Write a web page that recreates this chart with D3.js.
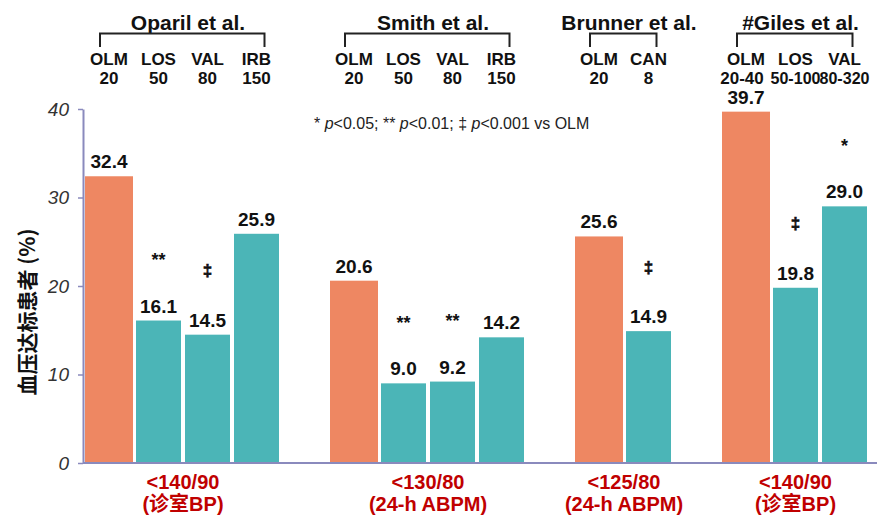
<!DOCTYPE html>
<html>
<head>
<meta charset="utf-8">
<script src="https://cdn.jsdelivr.net/npm/d3@7/dist/d3.min.js"></script>
<style>
  html, body { margin: 0; padding: 0; background: #fff; }
  svg { display: block; font-family: Arial, "Liberation Sans", sans-serif; }
</style>
</head>
<body>
<svg id="chart" width="882" height="520"></svg>
<script>
// ---------------- data ----------------
const studies = ["Oparil et al.", "Smith et al.", "Brunner et al.", "#Giles et al."];
const drugs = [["OLM", "LOS", "VAL", "IRB"], ["OLM", "LOS", "VAL", "IRB"], ["OLM", "CAN"], ["OLM", "LOS", "VAL"]];
const doses = [["20", "50", "80", "150"], ["20", "50", "80", "150"], ["20", "8"], ["20-40", "50-100", "80-320"]];
const values = [[32.4, 16.1, 14.5, 25.9], [20.6, 9.0, 9.2, 14.2], [25.6, 14.9], [39.7, 19.8, 29.0]];
const significance = [["", "**", "‡", ""], ["", "**", "**", ""], ["", "‡"], ["", "‡", "*"]];
const targets = [["<140/90", "(诊室BP)"], ["<130/80", "(24-h ABPM)"], ["<125/80", "(24-h ABPM)"], ["<140/90", "(诊室BP)"]];
const yTicks = [0, 10, 20, 30, 40];
const yLabel = "血压达标患者 (%)";
const note = [["* ", false], ["p", true], ["<0.05; ** ", false], ["p", true], ["<0.01; ‡ ", false], ["p", true], ["<0.001 vs OLM", false]];

// ---------------- layout ----------------
const svg = d3.select("#chart");
const ORANGE = "#EE8762", TEAL = "#4BB5B7", AXIS = "#8A8ABD", RED = "#C00000";

// flatten into slots, with one empty slot between studies
const bars = [];
let slot = 0;
studies.forEach((s, g) => {
  values[g].forEach((v, i) => {
    bars.push({ g, i, slot, value: v, drug: drugs[g][i], dose: doses[g][i], sig: significance[g][i] });
    slot++;
  });
  slot++;
});
const nSlots = slot - 1;

const x = d3.scaleBand().domain(d3.range(nSlots)).range([85, 869]).paddingInner(0).paddingOuter(0);
const step = x.step();
const y = d3.scaleLinear().domain([0, 40]).range([463, 109]);

function barX(d) { return d.i === 0 ? x(d.slot) : x(d.slot) + 2; }
function barW(d) { return d.i === 0 ? step - 1 : step - 4; }
function barC(d) { return barX(d) + barW(d) / 2; }

// ---------------- bars ----------------
svg.append("g").selectAll("rect").data(bars).join("rect")
  .attr("x", barX)
  .attr("width", barW)
  .attr("y", d => y(d.value))
  .attr("height", d => y(0) - y(d.value))
  .attr("fill", d => d.i === 0 ? ORANGE : TEAL);

// ---------------- axes ----------------
const yAxis = d3.axisLeft(y).tickValues(yTicks).tickSize(5).tickSizeOuter(0).tickPadding(9);
const yg = svg.append("g").attr("transform", "translate(83,0)").call(yAxis);
yg.select(".domain").attr("stroke", AXIS).attr("stroke-width", 2);
yg.selectAll(".tick line").attr("stroke", AXIS).attr("stroke-width", 1.5);
yg.selectAll(".tick text")
  .attr("font-family", "Arial, 'Liberation Sans', sans-serif")
  .attr("font-size", 19).attr("font-style", "italic").attr("fill", "#333");

svg.append("line")
  .attr("x1", x.range()[0] - 2).attr("x2", x.range()[1] + 8)
  .attr("y1", y(0)).attr("y2", y(0))
  .attr("stroke", AXIS).attr("stroke-width", 2);

// y label
svg.append("text")
  .attr("transform", `translate(35,312) rotate(-90)`)
  .attr("text-anchor", "middle")
  .attr("font-family", "'Noto Sans CJK SC', sans-serif")
  .attr("font-size", 21).attr("font-weight", "bold").attr("fill", "#111")
  .text(yLabel);

// ---------------- value labels ----------------
svg.append("g").selectAll("text").data(bars).join("text")
  .attr("x", barC)
  .attr("y", d => y(d.value) - 8)
  .attr("text-anchor", "middle")
  .attr("font-size", 19).attr("font-weight", "bold").attr("fill", "#111")
  .text(d => d.value.toFixed(1));

// significance markers
svg.append("g").selectAll("text").data(bars.filter(d => d.sig)).join("text")
  .attr("x", barC)
  .attr("y", d => y(d.value + 7.4) + (d.sig === "‡" ? 7 : 11))
  .attr("text-anchor", "middle")
  .attr("font-size", d => d.sig === "‡" ? 17 : 18).attr("font-weight", "bold").attr("fill", "#111")
  .attr("stroke", d => d.sig === "‡" ? "#111" : "none").attr("stroke-width", 0.6)
  .text(d => d.sig);

// note
const nt = svg.append("text").attr("x", 314).attr("y", 129)
  .attr("font-size", 16).attr("fill", "#222");
note.forEach(([t, it]) => nt.append("tspan").attr("font-style", it ? "italic" : "normal").text(t));

// ---------------- headers ----------------
studies.forEach((s, g) => {
  const gb = bars.filter(d => d.g === g);
  const first = gb[0], last = gb[gb.length - 1];
  const cx = (x(first.slot) + x(last.slot) + step) / 2;
  const hg = svg.append("g");
  hg.append("text").attr("x", cx + 5).attr("y", 30)
    .attr("text-anchor", "middle").attr("font-size", 21).attr("font-weight", "bold").attr("fill", "#111")
    .text(s);
  const bx1 = barC(first) - 9, bx2 = barC(last) + 8;
  hg.append("path")
    .attr("d", `M${bx1},47V33.5H${bx2}V47`)
    .attr("fill", "none").attr("stroke", "#222").attr("stroke-width", 2);
  gb.forEach(d => {
    hg.append("text").attr("x", barC(d)).attr("y", 65)
      .attr("text-anchor", "middle").attr("font-size", 17).attr("font-weight", "bold").attr("fill", "#111")
      .text(d.drug);
    const dt = hg.append("text").attr("x", barC(d) - (d.dose.length > 3 && d.i === 0 ? 4 : 0)).attr("y", 84)
      .attr("text-anchor", "middle").attr("font-size", 17).attr("font-weight", "bold").attr("fill", "#111")
      .text(d.dose);
    if (dt.node().getComputedTextLength() > step + 1) {
      dt.attr("textLength", step + 1).attr("lengthAdjust", "spacingAndGlyphs");
    }
  });
  // target labels below axis
  const tg = svg.append("text").attr("text-anchor", "middle")
    .attr("font-size", 20).attr("font-weight", "bold").attr("fill", RED);
  tg.append("tspan").attr("x", cx).attr("y", 489).text(targets[g][0]);
  tg.append("tspan").attr("x", cx).attr("y", 511)
    .attr("font-family", "Arial, 'Liberation Sans', 'Noto Sans CJK SC', sans-serif")
    .text(targets[g][1]);
});
</script>
</body>
</html>
